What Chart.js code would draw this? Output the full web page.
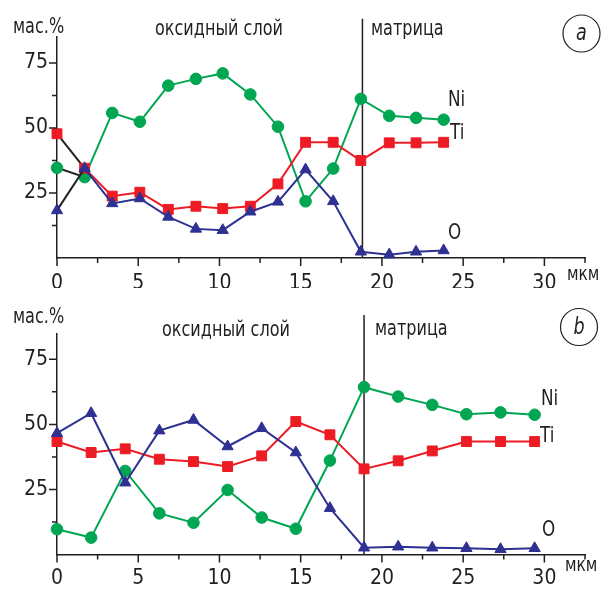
<!DOCTYPE html>
<html>
<head>
<meta charset="utf-8">
<script src="https://cdn.jsdelivr.net/npm/chart.js@4.4.1/dist/chart.umd.min.js"></script>
<style>
  html, body { margin: 0; padding: 0; background: #fff; }
  #wrap { position: relative; width: 603px; height: 589px; }
  canvas { position: absolute; left: 0; }
</style>
</head>
<body>
<div id="wrap">
  <canvas id="chartA" width="603" height="296" style="top:0"></canvas>
  <canvas id="chartB" width="603" height="293" style="top:296px"></canvas>
</div>
<script>
// Profile (a): depth, µm, and element content, wt.%
const depthA = [0, 1.7, 3.4, 5.1, 6.85, 8.55, 10.2, 11.9, 13.6, 15.3, 17.0, 18.7, 20.45, 22.1, 23.8];
const niA    = [34.7, 31.1, 55.8, 52.4, 66.3, 68.9, 71.0, 62.9, 50.5, 21.8, 34.4, 61.2, 54.7, 53.9, 53.2];
const tiA    = [47.8, 34.5, 23.8, 25.3, 18.7, 19.9, 19.0, 19.9, 28.5, 44.5, 44.5, 37.5, 44.3, 44.3, 44.5];
const oA     = [18.3, 34.5, 21.0, 22.9, 15.8, 11.2, 10.7, 17.8, 21.6, 34.0, 21.8, 2.4, 1.3, 2.4, 2.9];
const boundaryA = 18.8;

// Profile (b)
const depthB = [0, 2.1, 4.2, 6.3, 8.4, 10.5, 12.6, 14.7, 16.8, 18.9, 21.0, 23.1, 25.2, 27.3, 29.4];
const niB    = [9.7, 6.5, 32.1, 15.8, 12.2, 24.8, 14.2, 9.9, 36.1, 64.3, 60.7, 57.5, 53.9, 54.6, 53.7];
const tiB    = [43.4, 39.2, 40.6, 36.6, 35.7, 33.8, 37.9, 51.1, 46.0, 32.9, 36.0, 39.8, 43.4, 43.4, 43.4];
const oB     = [46.6, 54.3, 27.6, 47.6, 51.7, 41.5, 48.5, 39.2, 17.8, 2.6, 3.0, 2.6, 2.4, 2.0, 2.4];
const boundaryB = 18.9;

// Axes
const xTickValues  = [0, 2.5, 5, 7.5, 10, 12.5, 15, 17.5, 20, 22.5, 25, 27.5, 30, 32.5];
const xLabelValues = [0, 5, 10, 15, 20, 25, 30];
const yTickValues  = [12.5, 25, 37.5, 50, 62.5, 75];
const yLabelValues = [25, 50, 75];
const xMax = 32.5, yMax = 85, boundaryTop = 92;

const FONT = "'Liberation Sans Narrow', 'DejaVu Sans Condensed', 'Arial Narrow', sans-serif";
const CONDENSE = 0.85;
const INK = '#231f20';
const GREEN = '#00a651', RED = '#ed1c24', BLUE = '#2e3192';

function pts(xs, ys) { return xs.map((x, i) => ({ x: x, y: ys[i] })); }

// minor / major tick marks on both axes
const tickMarks = {
  id: 'tickMarks',
  afterDraw(chart) {
    const { ctx } = chart;
    const xs = chart.scales.x, ys = chart.scales.y;
    ctx.save();
    ctx.strokeStyle = INK;
    ctx.lineWidth = 1.5;
    ctx.beginPath();
    xTickValues.forEach(v => {
      const px = xs.getPixelForValue(v);
      const len = xLabelValues.includes(v) ? 8 : 5;
      ctx.moveTo(px, xs.top);
      ctx.lineTo(px, xs.top + len);
    });
    yTickValues.forEach(v => {
      const py = ys.getPixelForValue(v);
      const len = yLabelValues.includes(v) ? 8 : 5;
      ctx.moveTo(ys.right, py);
      ctx.lineTo(ys.right - len, py);
    });
    ctx.stroke();
    ctx.restore();
  }
};

// free text (narrowed) and the circled panel letter
function annotations(texts, letter) {
  return {
    id: 'annotations',
    afterDraw(chart) {
      const { ctx } = chart;
      ctx.save();
      ctx.fillStyle = INK;
      ctx.textBaseline = 'alphabetic';
      ctx.textAlign = 'left';
      texts.forEach(t => {
        ctx.save();
        ctx.font = t.size + 'px ' + FONT;
        ctx.translate(t.x, t.y);
        ctx.scale(CONDENSE, 1);
        ctx.fillText(t.text, 0, 0);
        ctx.restore();
      });
      ctx.strokeStyle = INK;
      ctx.lineWidth = 1.2;
      ctx.beginPath();
      ctx.arc(letter.x, letter.y, letter.r, 0, Math.PI * 2);
      ctx.stroke();
      ctx.translate(letter.x, letter.y + 1);
      ctx.scale(CONDENSE, 1);
      ctx.font = 'italic 23px ' + FONT;
      ctx.textAlign = 'center';
      ctx.textBaseline = 'middle';
      ctx.fillText(letter.text, 0, 0);
      ctx.restore();
    }
  };
}

function makeChart(id, depth, ni, ti, o, boundary, opts) {
  const series = (label, ys, color, style, radius, order) => ({
    label: label,
    data: pts(depth, ys),
    borderColor: color,
    backgroundColor: color,
    borderWidth: 2,
    pointStyle: style,
    pointRadius: radius,
    pointBackgroundColor: color,
    pointBorderColor: color,
    pointBorderWidth: 1,
    order: order,
    clip: false,
    segment: opts.blackFirst ? {
      borderColor: c => (c.p0DataIndex === 0 ? INK : undefined)
    } : undefined
  });

  return new Chart(document.getElementById(id), {
    type: 'line',
    data: {
      datasets: [
        series('O', o, BLUE, 'triangle', 6.5, 0),
        series('Ti', ti, RED, 'rect', 7, 1),
        series('Ni', ni, GREEN, 'circle', 5.8, 2),
        {
          label: 'boundary',
          data: [{ x: boundary, y: 0 }, { x: boundary, y: boundaryTop }],
          borderColor: INK,
          borderWidth: 1.5,
          pointRadius: 0,
          clip: false,
          order: 3
        }
      ]
    },
    options: {
      responsive: false,
      animation: false,
      events: [],
      layout: {
        autoPadding: false,
        padding: { top: opts.padTop, left: 0, right: 18, bottom: opts.padBottom }
      },
      plugins: { legend: { display: false }, tooltip: { enabled: false } },
      scales: {
        x: {
          type: 'linear',
          min: 0,
          max: xMax,
          afterFit: s => { s.height = 30; },
          afterBuildTicks: s => { s.ticks = xTickValues.map(v => ({ value: v })); },
          grid: { display: false, drawTicks: false },
          border: { display: true, color: INK, width: 1.5 },
          ticks: {
            autoSkip: false,
            maxRotation: 0,
            padding: opts.xPad,
            color: INK,
            font: { family: FONT, size: 21 },
            callback: v => (xLabelValues.includes(v) ? String(v) : '')
          }
        },
        y: {
          type: 'linear',
          min: 0,
          max: yMax,
          afterFit: s => { s.width = 57; },
          afterBuildTicks: s => { s.ticks = yTickValues.map(v => ({ value: v })); },
          grid: { display: false, drawTicks: false },
          border: { display: true, color: INK, width: 1.5 },
          ticks: {
            autoSkip: false,
            padding: 9,
            color: INK,
            font: { family: FONT, size: 21 },
            callback: v => (yLabelValues.includes(v) ? String(v) : '')
          }
        }
      }
    },
    plugins: [tickMarks, annotations(opts.texts, opts.letter)]
  });
}

makeChart('chartA', depthA, niA, tiA, oA, boundaryA, {
  blackFirst: true,
  padTop: 37, padBottom: 8, xPad: 13,
  texts: [
    { text: 'мас.%', x: 13, y: 33, size: 21 },
    { text: 'оксидный слой', x: 155, y: 35, size: 21 },
    { text: 'матрица', x: 371, y: 35, size: 21 },
    { text: 'Ni', x: 448, y: 106, size: 22 },
    { text: 'Ti', x: 450, y: 139, size: 22 },
    { text: 'O', x: 448, y: 239, size: 22 },
    { text: 'мкм', x: 567, y: 280, size: 20 }
  ],
  letter: { text: 'a', x: 581.5, y: 33.5, r: 18.5 }
});

makeChart('chartB', depthB, niB, tiB, oB, boundaryB, {
  blackFirst: false,
  padTop: 37.3, padBottom: 4.5, xPad: 11,
  texts: [
    { text: 'мас.%', x: 13, y: 27, size: 21 },
    { text: 'оксидный слой', x: 162, y: 40, size: 21 },
    { text: 'матрица', x: 375, y: 39, size: 21 },
    { text: 'Ni', x: 541, y: 109, size: 22 },
    { text: 'Ti', x: 540, y: 146, size: 22 },
    { text: 'O', x: 542, y: 240, size: 22 },
    { text: 'мкм', x: 565, y: 275, size: 20 }
  ],
  letter: { text: 'b', x: 579, y: 31, r: 18.5 }
});
</script>
</body>
</html>
